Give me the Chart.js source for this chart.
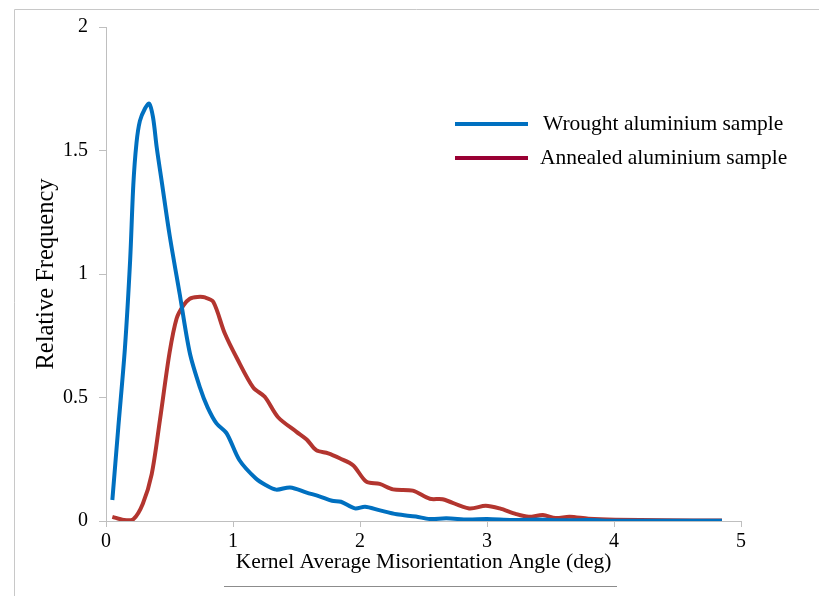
<!DOCTYPE html>
<html>
<head>
<meta charset="utf-8">
<script src="https://cdn.jsdelivr.net/npm/chart.js@4"></script>
<style>
  html, body { margin: 0; padding: 0; background: #fff; }
  #wrap { width: 819px; height: 596px; }
</style>
</head>
<body>
<div id="wrap"><canvas id="kamChart" width="819" height="596"></canvas></div>
<script>
var xTicks = [0, 1, 2, 3, 4, 5];
var yTicks = [0, 0.5, 1, 1.5, 2];
var seriesNames = ["Wrought aluminium sample", "Annealed aluminium sample"];

var wroughtX = [0.05, 0.097, 0.149, 0.19, 0.215, 0.24, 0.267, 0.307, 0.34, 0.37, 0.40, 0.44, 0.50, 0.58, 0.66, 0.74, 0.80, 0.87, 0.95,
  1.05, 1.18, 1.26, 1.34, 1.45, 1.58, 1.68, 1.78, 1.85, 1.96, 2.04, 2.15, 2.29, 2.44, 2.55, 2.68, 2.85, 3.0, 3.2, 3.4, 3.6, 3.8, 4.0, 4.4, 4.85];
var wroughtY = [0.085, 0.38, 0.70, 1.055, 1.36, 1.53, 1.62, 1.67, 1.69, 1.635, 1.51, 1.37, 1.16, 0.92, 0.68, 0.54, 0.46, 0.395, 0.355,
  0.247, 0.172, 0.145, 0.127, 0.136, 0.115, 0.10, 0.082, 0.078, 0.051, 0.058, 0.044, 0.027, 0.018, 0.008, 0.011, 0.006, 0.008, 0.004, 0.006, 0.003, 0.004, 0.001, 0.001, 0.001];

var annealedX = [0.05, 0.14, 0.215, 0.29, 0.36, 0.425, 0.50, 0.556, 0.61, 0.66, 0.72, 0.78, 0.845, 0.935, 1.03, 1.16, 1.25, 1.355, 1.5, 1.58, 1.655,
  1.75, 1.84, 1.945, 2.05, 2.155, 2.26, 2.415, 2.55, 2.65, 2.86, 2.99, 3.10, 3.23, 3.33, 3.44, 3.54, 3.65, 3.80, 4.01, 4.4, 4.85];
var annealedY = [0.017, 0.004, 0.007, 0.07, 0.19, 0.41, 0.68, 0.82, 0.873, 0.90, 0.907, 0.905, 0.887, 0.76, 0.66, 0.54, 0.503, 0.42, 0.361, 0.33, 0.287,
  0.274, 0.254, 0.226, 0.159, 0.15, 0.128, 0.123, 0.09, 0.088, 0.051, 0.062, 0.051, 0.028, 0.017, 0.024, 0.012, 0.017, 0.009, 0.005, 0.003, 0.002];

var lineColors = ["#0070c0", "#b3352f"];
var legendColors = ["#0070c0", "#990033"];

function toPoints(xs, ys) {
  return xs.map(function (x, i) { return { x: x, y: ys[i] }; });
}

var serif = "'Liberation Serif', 'Times New Roman', serif";

// frame, legend and the rule under the x title, drawn by hand
var decor = {
  id: 'decor',
  beforeDraw: function (chart) {
    var c = chart.ctx;
    c.save();
    c.strokeStyle = '#c8c8c8';
    c.lineWidth = 1;
    c.beginPath();
    c.moveTo(14.5, 596);
    c.lineTo(14.5, 9.5);
    c.lineTo(819, 9.5);
    c.stroke();
    c.restore();
  },
  afterDraw: function (chart) {
    var c = chart.ctx;
    c.save();
    c.strokeStyle = '#8c8c8c';
    c.lineWidth = 1;
    c.beginPath();
    c.moveTo(224, 586.5);
    c.lineTo(617, 586.5);
    c.stroke();

    var rows = [{ y: 124, tx: 543 }, { y: 158, tx: 540 }];
    c.font = "21.5px " + serif;
    c.textBaseline = 'middle';
    c.fillStyle = '#000';
    chart.data.datasets.forEach(function (ds, i) {
      c.strokeStyle = legendColors[i];
      c.lineWidth = 4;
      c.beginPath();
      c.moveTo(455, rows[i].y);
      c.lineTo(528, rows[i].y);
      c.stroke();
      c.fillText(ds.label, rows[i].tx, rows[i].y);
    });
    c.restore();
  }
};

new Chart("kamChart", {
  type: "line",
  data: {
    datasets: [{
      label: seriesNames[0],
      data: toPoints(wroughtX, wroughtY),
      borderColor: lineColors[0],
      borderWidth: 4,
      pointRadius: 0,
      tension: 0.3,
      fill: false
    }, {
      label: seriesNames[1],
      data: toPoints(annealedX, annealedY),
      borderColor: lineColors[1],
      borderWidth: 4,
      pointRadius: 0,
      tension: 0.3,
      fill: false
    }]
  },
  options: {
    responsive: false,
    animation: false,
    layout: { padding: { left: 32, right: 78, top: 27, bottom: 0 } },
    plugins: {
      legend: { display: false },
      tooltip: { enabled: false }
    },
    scales: {
      x: {
        type: 'linear',
        min: 0,
        max: 5,
        afterBuildTicks: function (s) { s.ticks = xTicks.map(function (v) { return { value: v }; }); },
        afterFit: function (s) { s.height = 75; },
        grid: { drawOnChartArea: false, drawTicks: true, tickLength: 6, color: '#bfbfbf' },
        border: { color: '#bfbfbf', width: 1 },
        ticks: { color: '#000', padding: 3, maxRotation: 0, font: { family: serif, size: 20 } },
        title: {
          display: true,
          text: 'Kernel Average Misorientation Angle (deg)',
          color: '#000',
          padding: { top: 0, bottom: 21 },
          font: { family: serif, size: 21.5 }
        }
      },
      y: {
        min: 0,
        max: 2,
        afterBuildTicks: function (s) { s.ticks = yTicks.map(function (v) { return { value: v }; }); },
        afterFit: function (s) { s.width = 106 - 32; },
        grid: { drawOnChartArea: false, drawTicks: true, tickLength: 7, color: '#bfbfbf' },
        border: { color: '#bfbfbf', width: 1 },
        ticks: {
          color: '#000',
          padding: 11,
          font: { family: serif, size: 20 },
          callback: function (v) { return String(v); }
        },
        title: {
          display: true,
          text: 'Relative Frequency',
          color: '#000',
          padding: { top: 0, bottom: 0 },
          font: { family: serif, size: 24.5 }
        }
      }
    }
  },
  plugins: [decor]
});
</script>
</body>
</html>
